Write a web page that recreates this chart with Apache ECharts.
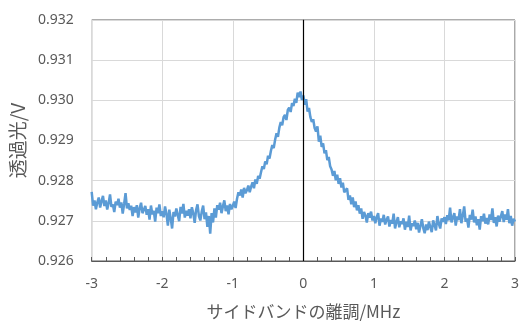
<!DOCTYPE html>
<html>
<head>
<meta charset="utf-8">
<script src="https://cdn.jsdelivr.net/npm/echarts@6/dist/echarts.min.js"></script>
<style>
  html, body { margin: 0; padding: 0; background: #fff; }
  #chart { width: 522px; height: 325px; }
</style>
</head>
<body>
<div id="chart"></div>
<script>
// Sideband detuning sweep: x from -3 to 3 MHz in 0.02 MHz steps
const xStart = -3;
const xStep = 0.02;

// Transmitted light signal (V), one value per detuning step
const transmitted = [
  0.92772, 0.92738, 0.92751, 0.92729, 0.92746, 0.92758, 0.92733, 0.92749, 0.92762, 0.92737,
  0.92751, 0.92728, 0.92744, 0.92766, 0.92735, 0.92741, 0.92722, 0.92748, 0.92739, 0.92755,
  0.92733, 0.92746, 0.92718, 0.92742, 0.92769, 0.92731, 0.92744, 0.92727, 0.92738, 0.92712,
  0.92734, 0.92721, 0.92739, 0.92708, 0.92731, 0.92745, 0.92719, 0.92728, 0.92737, 0.92715,
  0.92729, 0.92703, 0.92738, 0.92716, 0.92725, 0.92698, 0.92733, 0.92719, 0.92741, 0.92712,
  0.92724, 0.92709, 0.92736, 0.92717, 0.92688, 0.92728, 0.92706, 0.92681, 0.92722, 0.92711,
  0.92731, 0.92714, 0.92699, 0.92735, 0.92718, 0.92742, 0.92708, 0.92725, 0.92713, 0.92729,
  0.92706, 0.92734, 0.92719, 0.92695, 0.92727, 0.92741, 0.92712, 0.92701, 0.92723, 0.92738,
  0.92704, 0.92721, 0.92685, 0.92712, 0.92668, 0.92719, 0.92696, 0.92731, 0.92708, 0.92739,
  0.92728, 0.92745, 0.92719, 0.92736, 0.92751, 0.92724, 0.92738, 0.92716, 0.92742, 0.92729,
  0.92737, 0.92748, 0.92732, 0.92755, 0.92771, 0.92763, 0.92778, 0.92758, 0.92782, 0.92769,
  0.92776, 0.92788, 0.92771, 0.92785, 0.92796, 0.92781, 0.92803, 0.92792, 0.92812, 0.92805,
  0.92821, 0.92836, 0.92829, 0.92848, 0.92841, 0.92862, 0.92855, 0.92874, 0.92889, 0.92881,
  0.92902, 0.92918, 0.92909, 0.92932, 0.92946, 0.92938, 0.92958, 0.92964, 0.92951, 0.92976,
  0.92982, 0.92971, 0.92993, 0.92986, 0.93004, 0.92994, 0.93019, 0.93008, 0.93022, 0.93001,
  0.93012, 0.92989, 0.93003, 0.92972, 0.92981, 0.92958, 0.92946, 0.92953, 0.92931, 0.92922,
  0.92935, 0.92897, 0.92912, 0.92884, 0.92893, 0.92868, 0.92876, 0.92851, 0.92859, 0.92836,
  0.92828, 0.92812, 0.92824, 0.92801, 0.92815, 0.92792, 0.92806, 0.92783, 0.92795, 0.92771,
  0.92768, 0.92781, 0.92752, 0.92763, 0.92741, 0.92758, 0.92734, 0.92748, 0.92726, 0.92739,
  0.92718, 0.92731, 0.92705, 0.92722, 0.92713, 0.92696, 0.92719, 0.92708, 0.92723, 0.92701,
  0.92712, 0.92694, 0.92709, 0.92719, 0.92688, 0.92706, 0.92698, 0.92715, 0.92691, 0.92703,
  0.92711, 0.92686, 0.92702, 0.92693, 0.92718, 0.92681, 0.92697, 0.92709, 0.92684, 0.92699,
  0.92692, 0.92706, 0.92678, 0.92698, 0.92685, 0.92713, 0.92676, 0.92694, 0.92687, 0.92701,
  0.92679, 0.92695, 0.92671, 0.92688, 0.92704, 0.92682, 0.92669, 0.92691, 0.92677, 0.92698,
  0.92684, 0.92672, 0.92701, 0.92689, 0.92676, 0.92712, 0.92693, 0.92681, 0.92706, 0.92698,
  0.92709, 0.92692, 0.92714, 0.92701, 0.92733, 0.92696, 0.92708, 0.92719, 0.92688, 0.92711,
  0.92702, 0.92729, 0.92694, 0.92713, 0.92736, 0.92698, 0.92706, 0.92683, 0.92715, 0.92703,
  0.92728, 0.92696, 0.92711, 0.92689, 0.92704, 0.92678, 0.92712, 0.92699, 0.92718, 0.92693,
  0.92707, 0.92691, 0.92716, 0.92702, 0.92731, 0.92695, 0.92709, 0.92686, 0.92713, 0.92698,
  0.92711, 0.92724, 0.92697, 0.92716, 0.92703, 0.92729, 0.92694, 0.92712, 0.92688, 0.92705,
  0.92698
];

// Axis ranges
const xRange = [-3, 3];
const yRange = [0.926, 0.932];
const xTickStep = 1;
const yTickStep = 0.001;

const xLabel = 'サイドバンドの離調/MHz';
const yLabel = '透過光/V';

const points = transmitted.map((v, i) => [+(xStart + i * xStep).toFixed(2), v]);

const textColor = '#595959';
const numFont = '"Noto Sans", "DejaVu Sans", sans-serif';
const cjkFont = '"Noto Sans CJK JP", "Noto Sans", sans-serif';

const chart = echarts.init(document.getElementById('chart'), null, { renderer: 'canvas' });
chart.setOption({
  animation: false,
  grid: {
    left: 90, right: 3, top: 20, bottom: 61,
    show: true, borderColor: '#595959', borderWidth: 1, backgroundColor: 'transparent'
  },
  xAxis: {
    type: 'value',
    min: xRange[0], max: xRange[1], interval: xTickStep,
    name: xLabel,
    nameLocation: 'middle',
    nameGap: 42,
    nameTextStyle: { color: textColor, fontSize: 17, fontFamily: cjkFont },
    axisLine: { show: true, onZero: false, lineStyle: { color: '#595959', width: 1 } },
    axisTick: { show: true, inside: true, length: 4, lineStyle: { color: '#595959' } },
    minorTick: { show: true, splitNumber: 5, length: 4, lineStyle: { color: '#595959' } },
    splitLine: { show: true, lineStyle: { color: '#d9d9d9', width: 1 } },
    axisLabel: { color: textColor, fontSize: 14, fontFamily: numFont, margin: 16 }
  },
  yAxis: {
    type: 'value',
    min: yRange[0], max: yRange[1], interval: yTickStep,
    name: yLabel,
    nameLocation: 'middle',
    nameGap: 62,
    nameTextStyle: { color: textColor, fontSize: 19, fontFamily: cjkFont },
    axisLine: { show: true, lineStyle: { color: '#595959', width: 1 } },
    axisTick: { show: false },
    splitLine: { show: true, lineStyle: { color: '#d9d9d9', width: 1 } },
    axisLabel: {
      color: textColor, fontSize: 14, fontFamily: numFont, margin: 18,
      formatter: v => v.toFixed(3)
    }
  },
  series: [{
    type: 'line',
    data: points,
    showSymbol: false,
    lineStyle: { color: '#5b9bd5', width: 2.5 },
    markLine: {
      silent: true,
      symbol: 'none',
      label: { show: false },
      lineStyle: { color: '#000', width: 1.2, type: 'solid' },
      data: [{ xAxis: 0 }]
    },
    z: 3
  }]
});
</script>
</body>
</html>
